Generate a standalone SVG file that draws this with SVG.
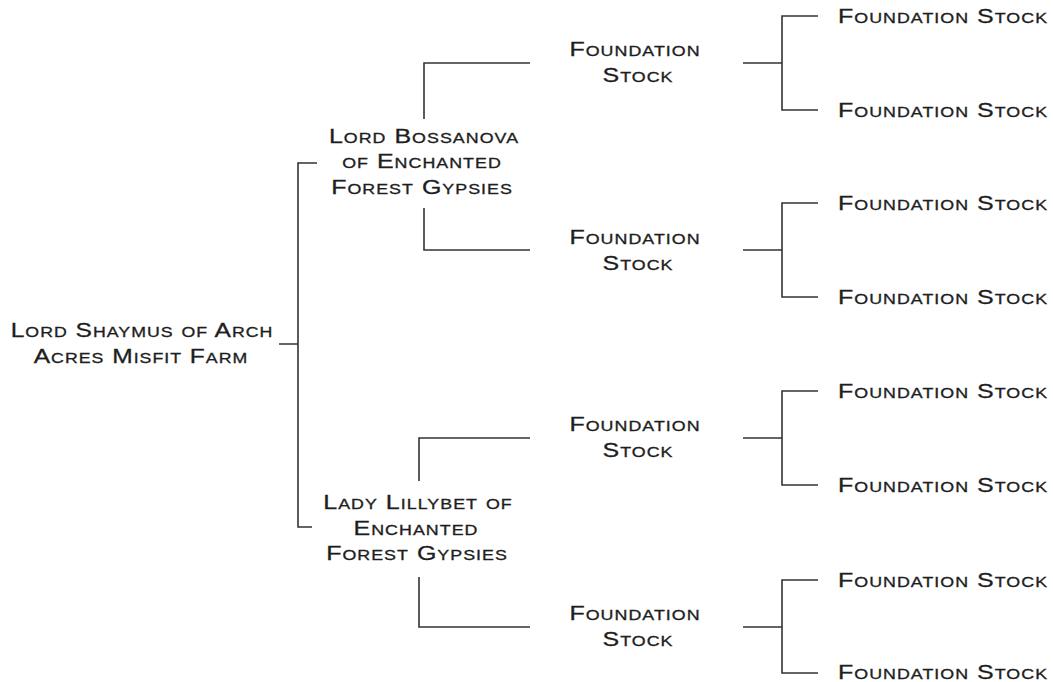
<svg xmlns="http://www.w3.org/2000/svg" width="1053" height="682" viewBox="0 0 1053 682">
<style>
text{font-family:"Liberation Sans",Arial,sans-serif;font-size:19.5px;font-variant:small-caps;letter-spacing:0.8px;fill:#1e1e1e;stroke:#1e1e1e;stroke-width:0.3px}
.c{text-anchor:middle}
.ln{fill:none;stroke:#333;stroke-width:1.6}
</style>
<rect width="1053" height="682" fill="#fff"/>
<g id="connectors" class="ln">
<path d="M279 344H298M317 163H298V527H312"/>
<path d="M424 119V63H530M424 208V250H530"/>
<path d="M419 481V438H530M419 577V627H530"/>
<path d="M743 63H782M818 16H782V110H818"/>
<path d="M743 250H782M818 203H782V297H818"/>
<path d="M743 438H782M818 391H782V485H818"/>
<path d="M743 627H782M818 580H782V673H818"/>
</g>
<g id="root"><text class="c" transform="matrix(1.26 0 0 1 142 337)">Lord Shaymus of Arch</text><text class="c" transform="matrix(1.26 0 0 1 141 363)">Acres Misfit Farm</text></g>
<g id="sire"><text class="c" transform="matrix(1.28 0 0 1 424 143)">Lord Bossanova</text><text class="c" transform="matrix(1.28 0 0 1 422 168)">of Enchanted</text><text class="c" transform="matrix(1.28 0 0 1 422 194)">Forest Gypsies</text></g>
<g id="dam"><text class="c" transform="matrix(1.28 0 0 1 418 509)">Lady Lillybet of</text><text class="c" transform="matrix(1.28 0 0 1 416 535)">Enchanted</text><text class="c" transform="matrix(1.28 0 0 1 417 560)">Forest Gypsies</text></g>
<g id="ss"><text class="c" transform="matrix(1.28 0 0 1 635 56)">Foundation</text><text class="c" transform="matrix(1.28 0 0 1 638 82)">Stock</text></g>
<g id="sd"><text class="c" transform="matrix(1.28 0 0 1 635 244)">Foundation</text><text class="c" transform="matrix(1.28 0 0 1 638 270)">Stock</text></g>
<g id="ds"><text class="c" transform="matrix(1.28 0 0 1 635 431)">Foundation</text><text class="c" transform="matrix(1.28 0 0 1 638 457)">Stock</text></g>
<g id="dd"><text class="c" transform="matrix(1.28 0 0 1 635 620)">Foundation</text><text class="c" transform="matrix(1.28 0 0 1 638 646)">Stock</text></g>
<g id="sss"><text transform="matrix(1.28 0 0 1 838 23)">Foundation Stock</text></g>
<g id="ssd"><text transform="matrix(1.28 0 0 1 838 117)">Foundation Stock</text></g>
<g id="sds"><text transform="matrix(1.28 0 0 1 838 210)">Foundation Stock</text></g>
<g id="sdd"><text transform="matrix(1.28 0 0 1 838 304)">Foundation Stock</text></g>
<g id="dss"><text transform="matrix(1.28 0 0 1 838 398)">Foundation Stock</text></g>
<g id="dsd"><text transform="matrix(1.28 0 0 1 838 492)">Foundation Stock</text></g>
<g id="dds"><text transform="matrix(1.28 0 0 1 838 587)">Foundation Stock</text></g>
<g id="ddd"><text transform="matrix(1.28 0 0 1 838 679)">Foundation Stock</text></g>
</svg>
